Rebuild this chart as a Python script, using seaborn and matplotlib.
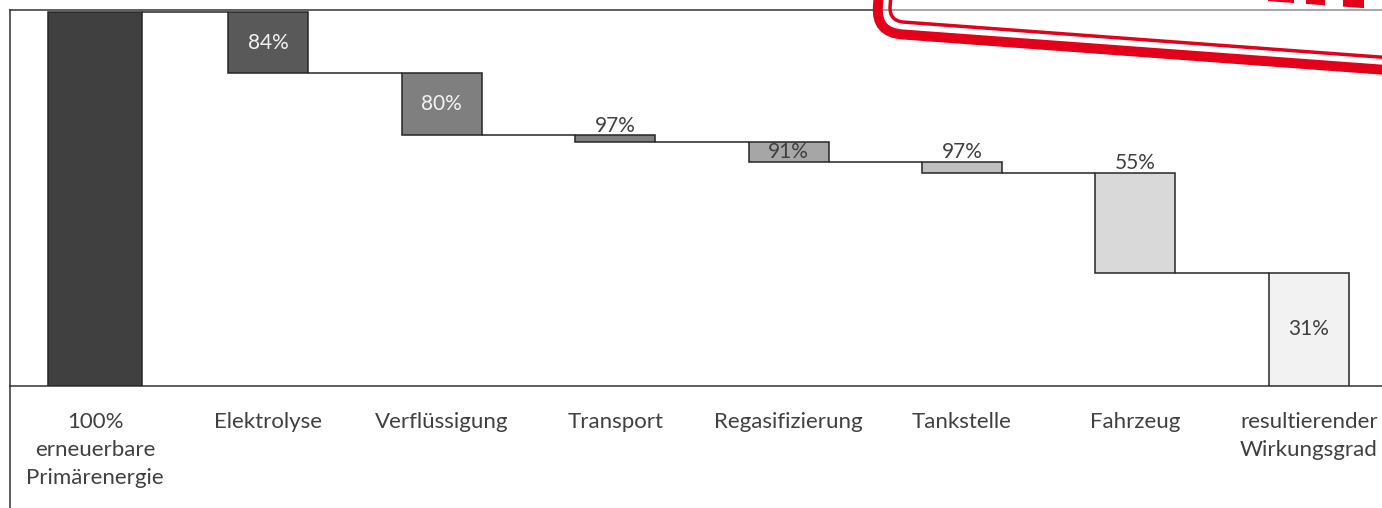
import matplotlib
matplotlib.use("Agg")
import matplotlib.pyplot as plt
from matplotlib.patches import FancyBboxPatch, Polygon
from matplotlib.transforms import Affine2D
import numpy as np
import pandas as pd
import seaborn as sns

# ---- data ----
categories = ["100%\nerneuerbare\nPrimärenergie", "Elektrolyse", "Verflüssigung", "Transport",
              "Regasifizierung", "Tankstelle", "Fahrzeug", "resultierender\nWirkungsgrad"]
step_labels = ["", "84%", "80%", "97%", "91%", "97%", "55%", "31%"]
bar_top = [1.000, 1.000, 0.836, 0.670, 0.651, 0.599, 0.570, 0.301]
bar_bottom = [0.000, 0.836, 0.670, 0.651, 0.599, 0.570, 0.301, 0.000]

# ---- styles ----
bar_colors = ["#404040", "#595959", "#7f7f7f", "#7f7f7f", "#a6a6a6", "#bfbfbf", "#d9d9d9", "#f2f2f2"]
label_mode = ["none", "center", "center", "above", "center", "above", "above", "center"]
label_color = ["#ffffff", "#f2f2f2", "#f2f2f2", "#404040", "#404040", "#404040", "#404040", "#404040"]
edge = "#262626"
text_col = "#404040"

sns.set_theme(style="white")
plt.rcParams["font.family"] = ["Lato", "DejaVu Sans"]

W, H = 1382, 508
fig = plt.figure(figsize=(W / 100, H / 100), dpi=100)
fig.patch.set_facecolor("white")

ax_left, ax_top, ax_bot = 10, 10, 385.7
ax = fig.add_axes([ax_left / W, (H - ax_bot) / H, (W - ax_left) / W, (ax_bot - ax_top) / H])

df = pd.DataFrame({"Schritt": categories,
                   "Hoehe": np.array(bar_top) - np.array(bar_bottom),
                   "Basis": bar_bottom})
bw = 0.461
sns.barplot(data=df, x="Schritt", y="Hoehe", order=categories, bottom=df["Basis"].values,
            color="#808080", saturation=1, width=bw, errorbar=None,
            edgecolor=edge, linewidth=1.1, ax=ax, zorder=3)

for i, p in enumerate(ax.patches):
    p.set_facecolor(bar_colors[i])
    if i == 0:
        p.set_width(0.542)
        p.set_x(i - 0.271)

# connectors
widths = [p.get_width() for p in ax.patches]
for i in range(len(categories) - 1):
    lvl = bar_bottom[i] if bar_bottom[i] > 0 else bar_top[i]
    x0 = i + widths[i] / 2
    x1 = i + 1 - widths[i + 1] / 2
    ax.plot([x0, x1], [lvl, lvl], color=edge, lw=1.1, zorder=2, solid_capstyle="butt")

# value labels
for i, (lab, mode) in enumerate(zip(step_labels, label_mode)):
    if mode == "none":
        continue
    if mode == "center":
        ax.text(i, (bar_top[i] + bar_bottom[i]) / 2, lab, ha="center", va="center",
                fontsize=15, color=label_color[i], zorder=5)
    else:
        ax.annotate(lab, (i, bar_top[i]), xytext=(0, 7), textcoords="offset points",
                    ha="center", va="center", fontsize=15, color=label_color[i], zorder=5)

ax.set_xlim((10 - 95) / 173.4, (1382 - 95) / 173.4)
ax.set_ylim(0, (ax_bot - ax_top) / 373.7)
ax.set_yticks([])
ax.set_xlabel("")
ax.set_ylabel("")
ax.tick_params(axis="x", length=0, pad=19, labelsize=16, labelcolor=text_col)
for lbl in ax.get_xticklabels():
    lbl.set_linespacing(1.5)
ax.spines["right"].set_visible(False)
for s in ["left", "top", "bottom"]:
    ax.spines[s].set_color("#333333")
    ax.spines[s].set_linewidth(1.1)
ax.set_facecolor("white")

# ---- overlay: frame continuation and red stamp fragment ----
ov = fig.add_axes([0, 0, 1, 1], zorder=10)
ov.set_xlim(0, W)
ov.set_ylim(H, 0)
ov.axis("off")
ov.patch.set_alpha(0)
ov.plot([10, 10], [ax_bot, H + 5], color="#333333", lw=1.1)

red = "#e2001a"
ang = 4.2
cx, cy = 876, 32.5
outer = FancyBboxPatch((cx, cy - 400), 900, 400, boxstyle="round,pad=0,rounding_size=26",
                       facecolor=(1, 1, 1, 0.45), edgecolor=red, lw=7.2,
                       transform=Affine2D().rotate_deg_around(cx, cy, ang) + ov.transData)
ov.add_patch(outer)
ix, iy = 889, 21.0
inner = FancyBboxPatch((ix, iy - 400), 900, 400, boxstyle="round,pad=0,rounding_size=15",
                       facecolor="none", edgecolor=red, lw=2.5,
                       transform=Affine2D().rotate_deg_around(ix, iy, ang) + ov.transData)
ov.add_patch(inner)
# bottoms of stamp letters
for xa, xb in [(1268, 1294), (1306, 1325), (1343, 1364)]:
    ya = 2 + 0.073 * (xa - 1280)
    yb = 2 + 0.073 * (xb - 1280)
    ov.add_patch(Polygon([(xa, -2), (xb, -2), (xb, yb), (xa, ya)], closed=True,
                         facecolor=red, edgecolor="none"))

fig.savefig("out.png", dpi=100, facecolor="white")
